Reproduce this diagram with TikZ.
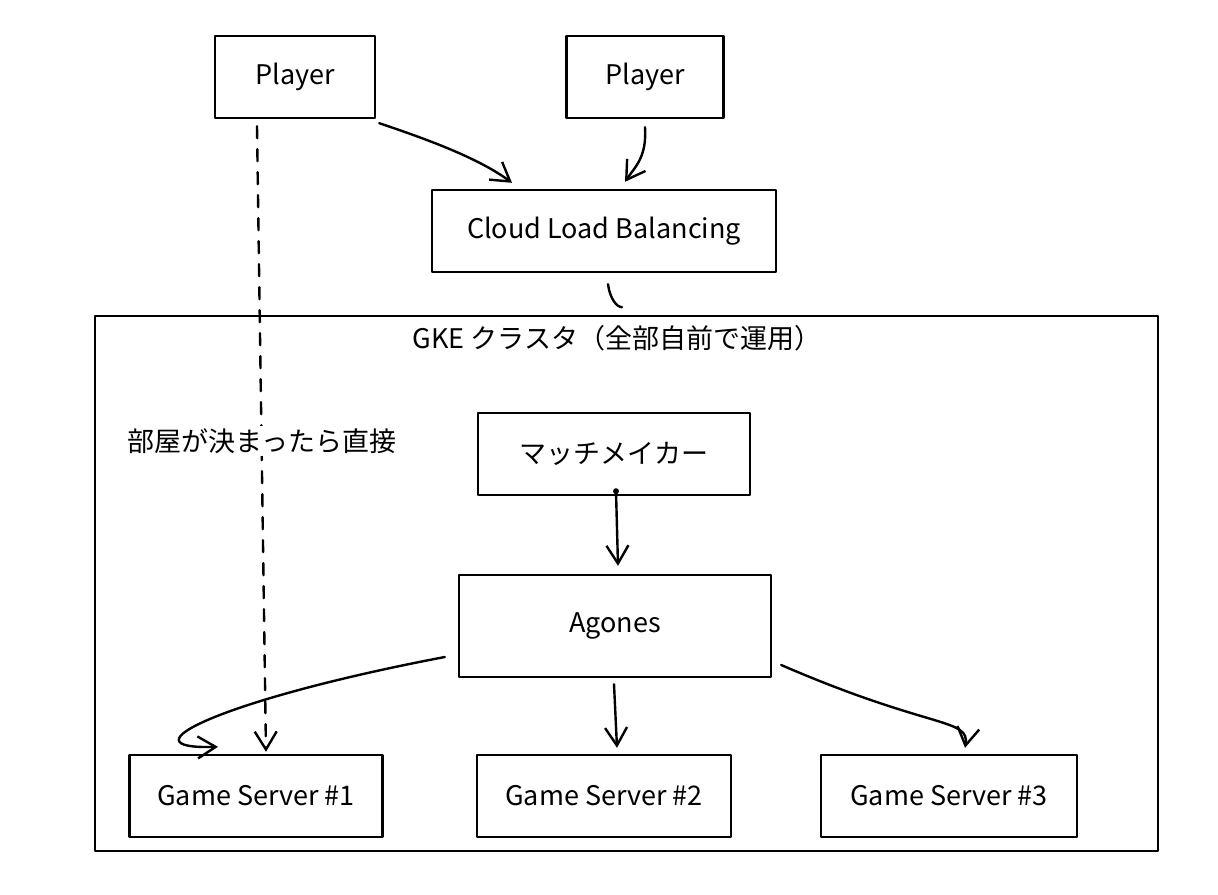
\documentclass[tikz,border=0pt]{standalone}
\usepackage{fontspec}
\setmainfont{Noto Sans CJK JP}
\usetikzlibrary{arrows.meta}

\begin{document}
\begin{tikzpicture}[
	x=0.5pt,y=-0.5pt,
	>={Straight Barb[length=9pt,width=11pt]},
	line width=1.2pt,
	line cap=round,
	line join=round,
	box/.style={draw,inner sep=0pt,minimum height=41pt,font=\fontsize{13.5}{16}\selectfont},
	txt/.style={inner sep=1pt,font=\fontsize{13.5}{16}\selectfont}
	]
	\useasboundingbox (0,0) rectangle (1218,894);
	% cluster frame
	\node[draw,inner sep=0pt,minimum width=531.5pt,minimum height=267.5pt] (cluster) at (626.5,583.5) {};
	\node[txt] (clusterlabel) at (617,338) {GKE クラスタ（全部自前で運用）};
	% boxes
	\node[box,minimum width=80pt] (p1) at (295,77) {Player};
	\node[box,minimum width=78.5pt] (p2) at (645,77) {Player};
	\node[box,minimum width=172pt] (clb) at (604,231) {Cloud Load Balancing};
	\node[box,minimum width=136pt] (mm) at (614,454) {マッチメイカー};
	\node[box,minimum width=156pt,minimum height=51pt] (agones) at (615,626) {Agones};
	\node[box,minimum width=126.5pt] (gs1) at (256,796) {Game Server \#1};
	\node[box,minimum width=127pt] (gs2) at (604,796) {Game Server \#2};
	\node[box,minimum width=128pt] (gs3) at (949,796) {Game Server \#3};
	% players -> load balancer
	\draw[->] ([shift={(3,4)}]p1.south east) .. controls +(60,20) and +(-30,-22) .. ([shift={(-92,-6)}]clb.north);
	\draw[->] ([shift={(0,8)}]p2.south) .. controls +(2,30) and +(10,-15) .. ([shift={(21,-7)}]clb.north);
	\draw ([shift={(4,11)}]clb.south) .. controls +(2,15) and +(-5,0) .. ([shift={(18,34)}]clb.south);
	% direct connection
	\draw[->,dash pattern=on 6pt off 5.5pt] ([shift={(-38,7)}]p1.south) -- ([shift={(10,-2)}]gs1.north);
	\node[txt,fill=white] (direct) at (262,441) {部屋が決まったら直接};
	% matchmaker -> agones
	\fill ([shift={(2,-5)}]mm.south) coordinate (mmdot) circle (3);
	\draw[->] (mmdot) -- ([shift={(3,-8)}]agones.north);
	% agones -> game servers
	\draw[->] ([shift={(-13,31)}]agones.west) .. controls +(-226,43) and +(-98,3) .. ([shift={(-38,-7)}]gs1.north);
	\draw[->] ([shift={(-1,6)}]agones.south) -- ([shift={(13,-6)}]gs2.north);
	\draw[->] ([shift={(9,39)}]agones.east) .. controls +(150,65) and +(5,-30) .. ([shift={(16,-6)}]gs3.north);
\end{tikzpicture}
\end{document}
